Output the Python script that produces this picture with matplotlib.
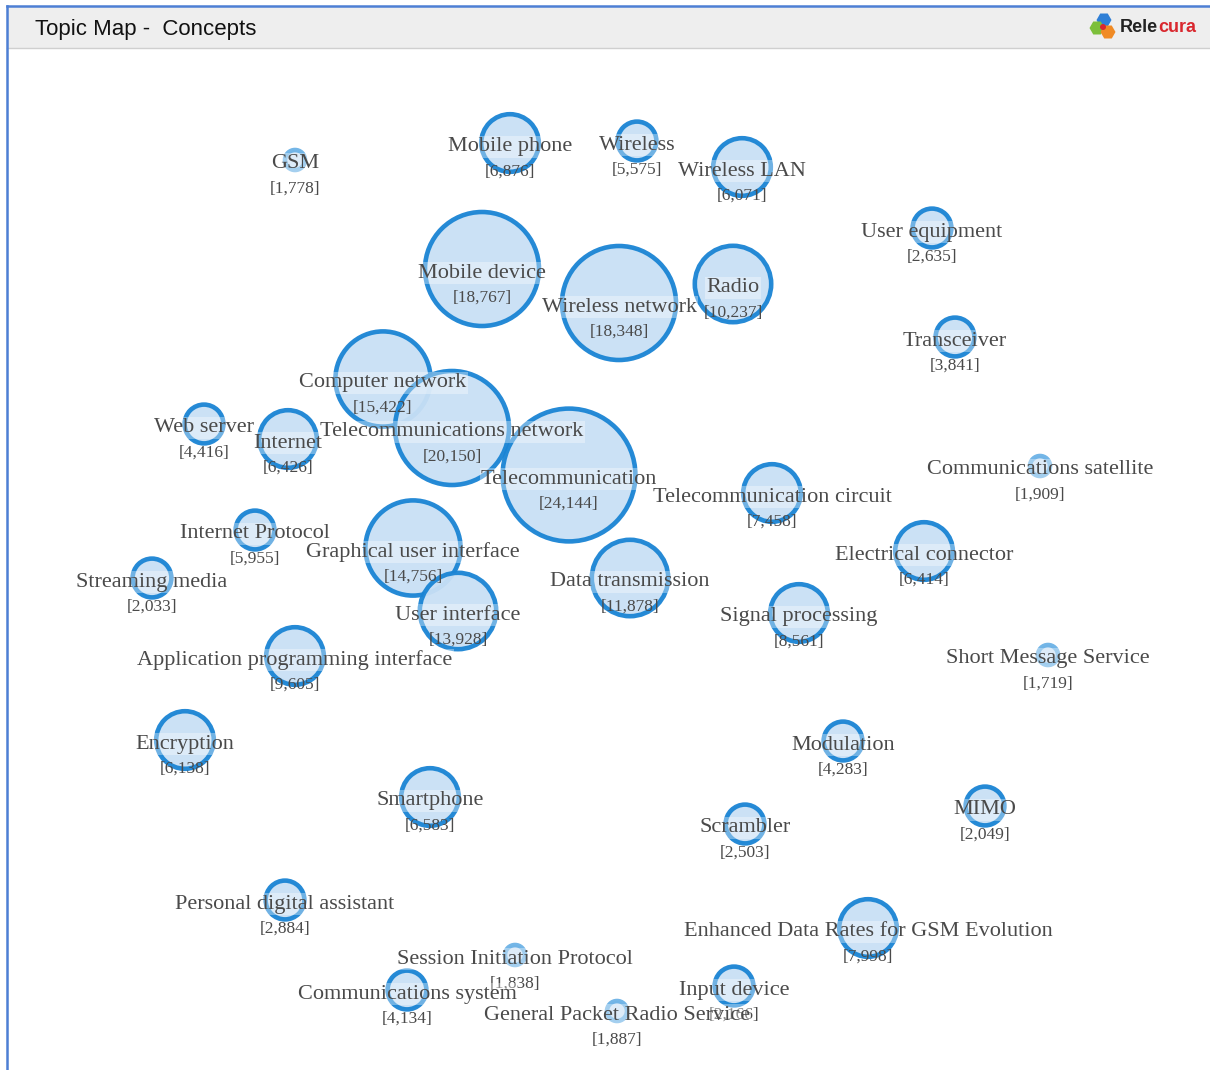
import matplotlib.pyplot as plt
from matplotlib.patches import Circle, RegularPolygon, Rectangle

# Concept names and document counts
names = [
    "GSM", "Mobile phone", "Wireless", "Wireless LAN", "User equipment",
    "Mobile device", "Wireless network", "Radio", "Transceiver",
    "Computer network", "Telecommunications network", "Telecommunication",
    "Web server", "Internet", "Communications satellite",
    "Telecommunication circuit", "Internet Protocol", "Graphical user interface",
    "Electrical connector", "Streaming media", "Data transmission",
    "User interface", "Signal processing", "Short Message Service",
    "Application programming interface", "Encryption", "Modulation", "MIMO",
    "Smartphone", "Scrambler", "Personal digital assistant",
    "Enhanced Data Rates for GSM Evolution", "Session Initiation Protocol",
    "Input device", "Communications system", "General Packet Radio Service",
]
counts = [
    1778, 6876, 5575, 6071, 2635,
    18767, 18348, 10237, 3841,
    15422, 20150, 24144,
    4416, 6426, 1909,
    7458, 5955, 14756,
    6414, 2033, 11878,
    13928, 8561, 1719,
    9605, 6138, 4283, 2049,
    6583, 2503, 2884,
    7998, 1838,
    2166, 4134, 1887,
]

# Layout of the topic map (pixel space, y down)
pos_x = [295, 510, 637, 742, 932, 482, 619, 733, 955, 383, 452, 569, 204, 288,
         1040, 772, 255, 413, 924, 152, 630, 458, 799, 1048, 295, 185, 843, 985,
         430, 745, 285, 868, 515, 734, 407, 617]
pos_y = [160, 143, 141, 167, 228, 269, 303, 284, 337, 379, 428, 475, 424, 439,
         466, 493, 530, 548, 551, 578, 578, 611, 613, 655, 656, 740, 741, 806,
         797, 824, 900, 928, 955, 986, 990, 1011]

W, H = 1210, 1070
fig = plt.figure(figsize=(W / 100, H / 100), dpi=100)
ax = fig.add_axes([0, 0, 1, 1])
ax.set_xlim(0, W)
ax.set_ylim(H, 0)
ax.axis("off")

# frame + header bar
ax.add_patch(Rectangle((7, 6), W, 42, fc="#eeeeee", ec="none", zorder=0))
ax.plot([7, W], [48, 48], color="#cfcfcf", lw=1, zorder=1)
ax.plot([7, W], [5.5, 5.5], color="#4d7fd4", lw=1.8, zorder=1)
ax.plot([7, 7], [5.5, H], color="#4d7fd4", lw=1.8, zorder=1)
ax.text(35, 30, "Topic Map -  Concepts", fontsize=16, family="Liberation Sans",
        color="#111111", va="center", ha="left")

# logo
for (hx, hy, c) in [(1104, 20, "#2f7fd6"), (1097, 28, "#7cbf3a"), (1108, 32, "#f08a24")]:
    ax.add_patch(RegularPolygon((hx, hy), 6, radius=7.5, orientation=0.52, fc=c, ec="none", zorder=2))
ax.add_patch(Circle((1103, 27), 3, fc="#d9272e", ec="none", zorder=3))
t1 = ax.text(1120, 27, "Rele", fontsize=13, fontweight="bold", family="Liberation Sans",
             color="#222222", va="center", ha="left")
fig.canvas.draw()
bb = t1.get_window_extent()
x_end = bb.x1  # pixel space equals data space in x
ax.text(x_end, 27, "cura", fontsize=13, fontweight="bold", family="Liberation Sans",
        color="#d9272e", va="center", ha="left")


def radius(v):
    k = int((v + 2000) // 4000)
    return 10 + 9.4 * k


for n, v, x, y in zip(names, counts, pos_x, pos_y):
    r = radius(v)
    ec = "#6cb2e6" if r < 15 else "#1a84d4"
    ax.add_patch(Circle((x, y), r, fc="#c9e0f5", ec=ec, lw=3.3, alpha=0.95, zorder=3))

for n, v, x, y in zip(names, counts, pos_x, pos_y):
    ax.text(x, y + 4, n, fontsize=16, family="Liberation Serif", color="#4a4a4a",
            ha="center", va="center", zorder=5,
            bbox=dict(boxstyle="square,pad=0.05", fc="white", ec="none", alpha=0.35))
    ax.text(x, y + 29, f"[{v:,}]", fontsize=12.5, family="Liberation Serif", color="#4a4a4a",
            ha="center", va="center", zorder=5)

fig.savefig("out.png", dpi=100)
